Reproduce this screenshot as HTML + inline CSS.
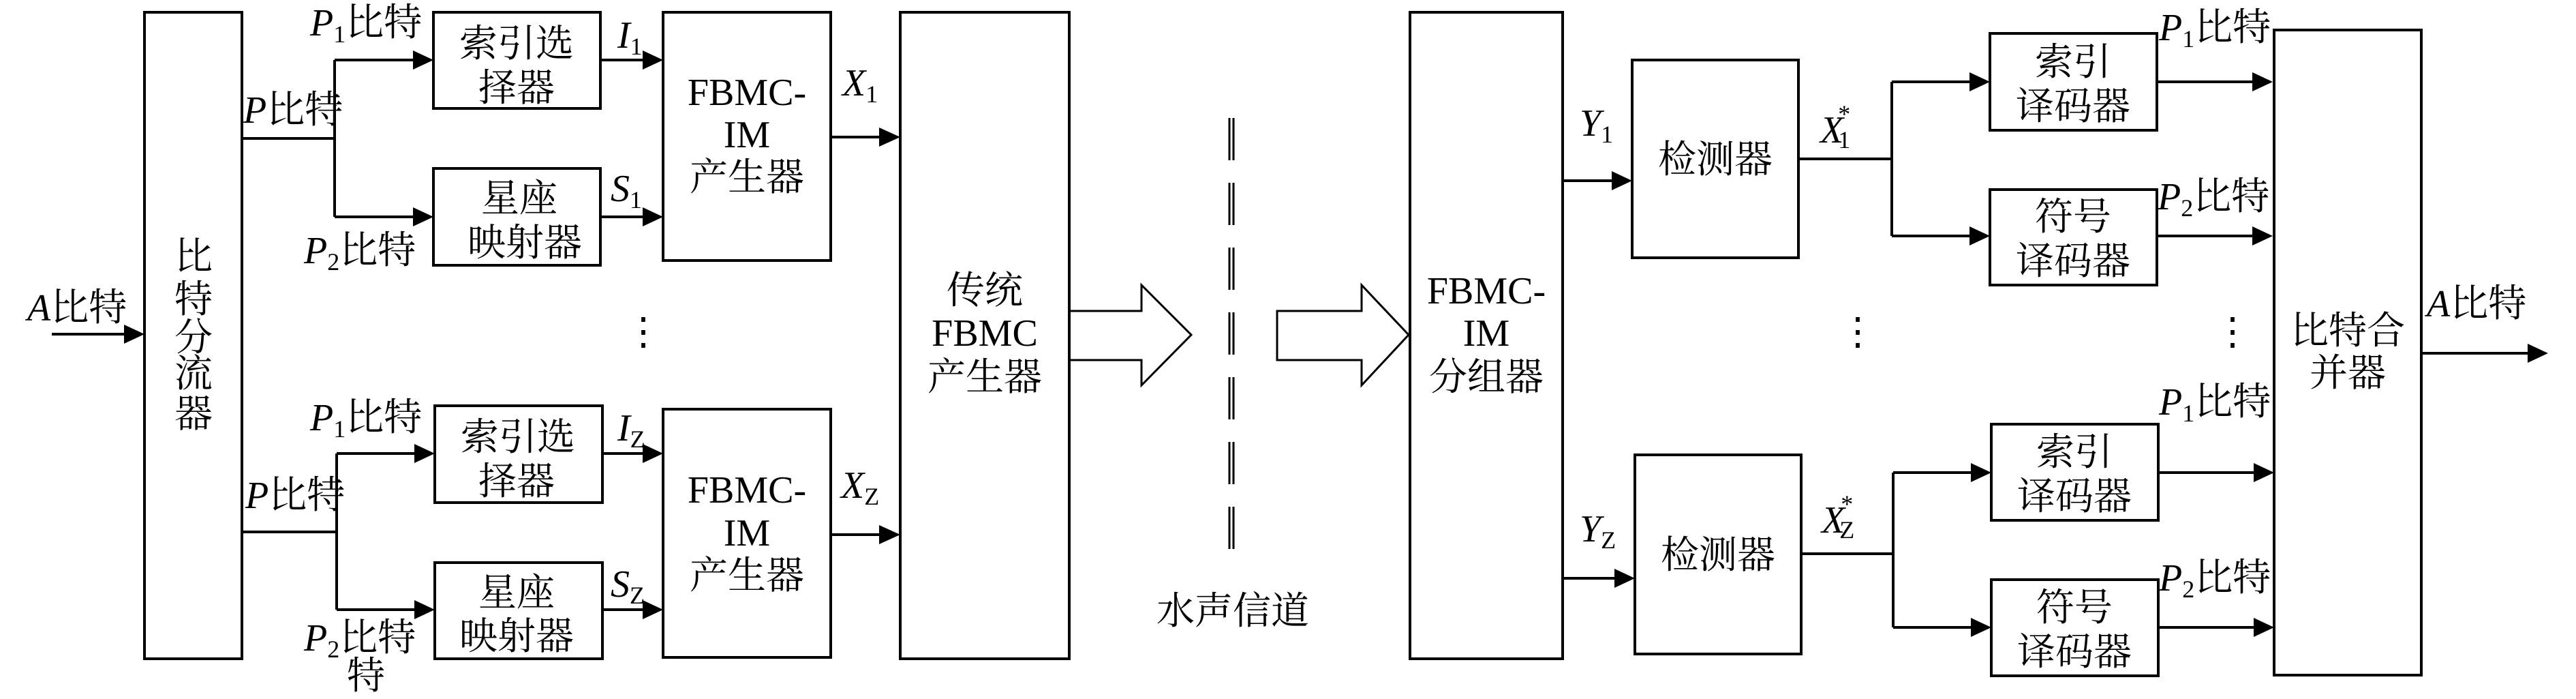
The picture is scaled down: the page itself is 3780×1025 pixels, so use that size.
<!DOCTYPE html>
<html><head><meta charset="utf-8"><style>
html,body{margin:0;padding:0;background:#fff}
svg{display:block}
text{font-family:"Liberation Serif","Noto Serif CJK SC",serif;font-size:56px;fill:#000}
.c{text-anchor:middle}
.i{font-style:italic}
.s{font-size:36px;font-style:normal}
</style></head><body>
<svg width="3780" height="1025" viewBox="0 0 3780 1025" xmlns="http://www.w3.org/2000/svg">
<g fill="none" stroke="#000" stroke-width="4">
<!-- boxes -->
<rect x="212" y="18" width="143" height="948"/>
<rect x="636" y="18" width="245" height="141"/>
<rect x="636" y="247" width="245" height="142"/>
<rect x="973" y="18" width="246" height="364"/>
<rect x="638" y="595" width="246" height="142"/>
<rect x="638" y="825" width="246" height="141"/>
<rect x="973" y="600" width="246" height="364"/>
<rect x="1321" y="18" width="248" height="948"/>
<rect x="2069" y="18" width="224" height="948"/>
<rect x="2395" y="88" width="244" height="290"/>
<rect x="2399" y="667" width="244" height="292"/>
<rect x="2920" y="49" width="245" height="142"/>
<rect x="2920" y="278" width="245" height="140"/>
<rect x="2922" y="622" width="245" height="141"/>
<rect x="2922" y="850" width="245" height="141"/>
<rect x="3337" y="44" width="216" height="946"/>
<!-- lines -->
<path d="M76 490H182"/>
<path d="M355 203H491M491 88V318M491 88H606M491 318H606"/>
<path d="M881 88H943M881 318H943M1219 201H1290"/>
<path d="M355 780H494M494 665V894M494 665H608M494 894H608"/>
<path d="M884 665H943M884 894H943M1219 784H1290"/>
<path d="M2293 265H2365M2293 848H2369"/>
<path d="M2639 233H2776M2776 120V346M2776 120H2890M2776 346H2890"/>
<path d="M2643 812H2778M2778 693V920M2778 693H2892M2778 920H2892"/>
<path d="M3165 120H3305M3165 346H3305M3167 693H3307M3167 920H3307"/>
<path d="M3553 518H3709"/>
<!-- hollow arrows -->
<path stroke-width="3" d="M1569 456H1675V418L1748 491L1675 565V528H1569"/>
<path stroke-width="3" d="M1874 456H1998V418L2067 491L1998 565V528H1874Z"/>
<!-- dashed double line -->
<path stroke-width="3" stroke-dasharray="62 33" d="M1804 173V810M1810 173V810"/>
</g>
<g fill="#000">
<polygon points="182,476 212,490 182,504"/>
<polygon points="606,74 636,88 606,102"/>
<polygon points="606,304 636,318 606,332"/>
<polygon points="943,74 973,88 943,102"/>
<polygon points="943,304 973,318 943,332"/>
<polygon points="1290,187 1321,201 1290,215"/>
<polygon points="608,651 638,665 608,679"/>
<polygon points="608,880 638,894 608,908"/>
<polygon points="943,651 973,665 943,679"/>
<polygon points="943,880 973,894 943,908"/>
<polygon points="1290,770 1321,784 1290,798"/>
<polygon points="2365,251 2395,265 2365,279"/>
<polygon points="2369,834 2399,848 2369,862"/>
<polygon points="2890,106 2920,120 2890,134"/>
<polygon points="2890,332 2920,346 2890,360"/>
<polygon points="2892,679 2922,693 2892,707"/>
<polygon points="2892,906 2922,920 2892,934"/>
<polygon points="3305,106 3335,120 3305,134"/>
<polygon points="3305,332 3335,346 3305,360"/>
<polygon points="3307,679 3337,693 3307,707"/>
<polygon points="3307,906 3337,920 3307,934"/>
<polygon points="3709,504 3739,518 3709,532"/>
</g>
<!-- box texts -->
<text class="c" x="284" y="395">比</text>
<text class="c" x="284" y="458">特</text>
<text class="c" x="284" y="514">分</text>
<text class="c" x="284" y="567">流</text>
<text class="c" x="284" y="626">器</text>
<text class="c" x="758" y="83">索引选</text><text class="c" x="758" y="148">择器</text>
<text class="c" x="762" y="310">星座</text><text class="c" x="770" y="375">映射器</text>
<text class="c" x="1096" y="154">FBMC-</text><text class="c" x="1096" y="216">IM</text><text class="c" x="1096" y="279">产生器</text>
<text class="c" x="760" y="660">索引选</text><text class="c" x="758" y="725">择器</text>
<text class="c" x="758" y="888">星座</text><text class="c" x="758" y="952">映射器</text>
<text class="c" x="1096" y="737">FBMC-</text><text class="c" x="1096" y="800">IM</text><text class="c" x="1096" y="863">产生器</text>
<text class="c" x="1445" y="445">传统</text><text class="c" x="1445" y="507">FBMC</text><text class="c" x="1445" y="572">产生器</text>
<text class="c" x="1809" y="915">水声信道</text>
<text class="c" x="2181" y="445">FBMC-</text><text class="c" x="2181" y="507">IM</text><text class="c" x="2181" y="572">分组器</text>
<text class="c" x="2517" y="253">检测器</text>
<text class="c" x="2521" y="833">检测器</text>
<text class="c" x="3042" y="110">索引</text><text class="c" x="3042" y="175">译码器</text>
<text class="c" x="3042" y="337">符号</text><text class="c" x="3042" y="402">译码器</text>
<text class="c" x="3044" y="682">索引</text><text class="c" x="3044" y="747">译码器</text>
<text class="c" x="3044" y="910">符号</text><text class="c" x="3044" y="975">译码器</text>
<text class="c" x="3445" y="504">比特合</text><text class="c" x="3445" y="566">并器</text>
<!-- labels -->
<text x="40" y="470"><tspan class="i">A</tspan>比特</text>
<text x="455" y="52"><tspan class="i">P</tspan><tspan class="s" dy="10">1</tspan><tspan dy="-10">比特</tspan></text>
<text x="357" y="180"><tspan class="i">P</tspan>比特</text>
<text x="446" y="386"><tspan class="i">P</tspan><tspan class="s" dy="10">2</tspan><tspan dy="-10">比特</tspan></text>
<text x="455" y="631"><tspan class="i">P</tspan><tspan class="s" dy="10">1</tspan><tspan dy="-10">比特</tspan></text>
<text x="360" y="745"><tspan class="i">P</tspan>比特</text>
<text x="446" y="954"><tspan class="i">P</tspan><tspan class="s" dy="10">2</tspan><tspan dy="-10">比特</tspan></text>
<text x="509" y="1010">特</text>
<text class="i" x="906" y="70">I<tspan class="s" dy="10">1</tspan></text>
<text class="i" x="896" y="295">S<tspan class="s" dy="10">1</tspan></text>
<text class="i" x="1236" y="140">X<tspan class="s" dy="10">1</tspan></text>
<text class="i" x="906" y="646">I<tspan class="s i" dy="10">Z</tspan></text>
<text class="i" x="896" y="875">S<tspan class="s i" dy="10">Z</tspan></text>
<text class="i" x="1234" y="730">X<tspan class="s i" dy="10">Z</tspan></text>
<text x="916" y="505">⋮</text>
<text class="i" x="2318" y="199">Y<tspan class="s" dy="10">1</tspan></text>
<text class="i" x="2318" y="794">Y<tspan class="s i" dy="10">Z</tspan></text>
<text class="i" x="2671" y="209">X<tspan class="s" dx="-8" dy="8">1</tspan><tspan class="s" dx="-18" dy="-38">*</tspan></text>
<text class="i" x="2673" y="781">X<tspan class="s i" dx="-8" dy="8">Z</tspan><tspan class="s" dx="-20" dy="-38">*</tspan></text>
<text x="2698" y="505">⋮</text>
<text x="3248" y="505">⋮</text>
<text x="3168" y="59"><tspan class="i">P</tspan><tspan class="s" dy="10">1</tspan><tspan dy="-10">比特</tspan></text>
<text x="3166" y="307"><tspan class="i">P</tspan><tspan class="s" dy="10">2</tspan><tspan dy="-10">比特</tspan></text>
<text x="3168" y="608"><tspan class="i">P</tspan><tspan class="s" dy="10">1</tspan><tspan dy="-10">比特</tspan></text>
<text x="3168" y="866"><tspan class="i">P</tspan><tspan class="s" dy="10">2</tspan><tspan dy="-10">比特</tspan></text>
<text x="3561" y="464"><tspan class="i">A</tspan>比特</text>
</svg>
</body></html>
